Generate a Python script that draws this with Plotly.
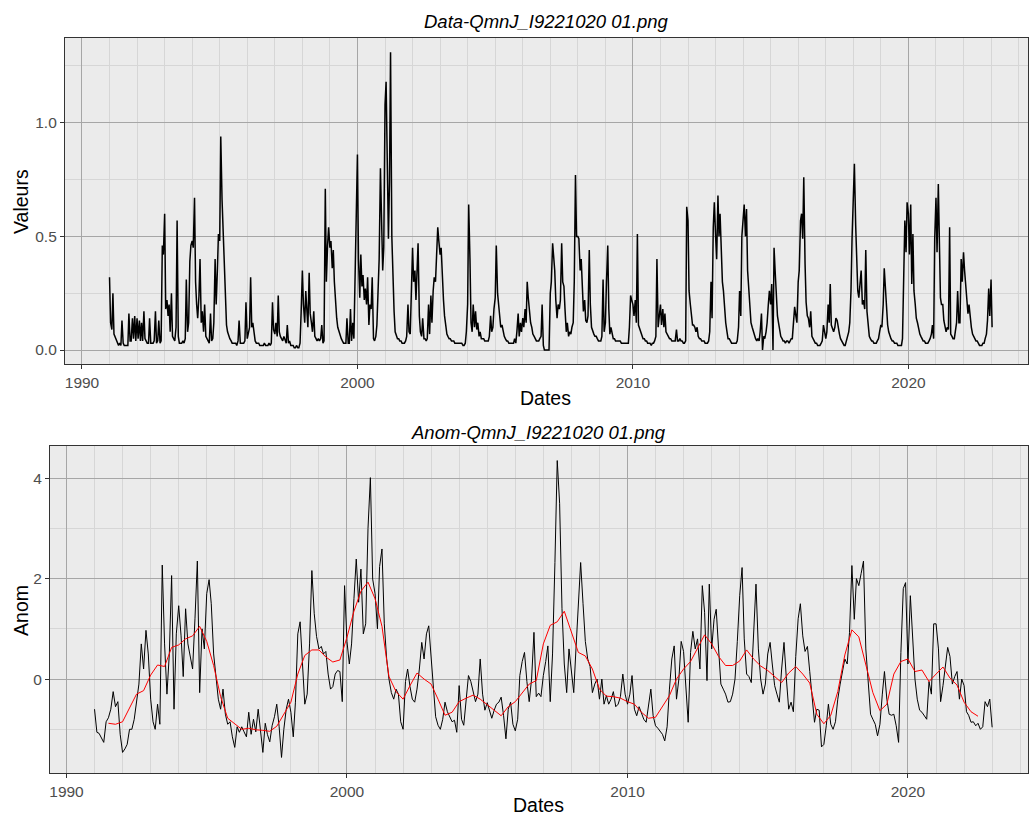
import pandas as pd
import plotly.graph_objects as go

# ---------------- Top panel: daily flow (sampled twice a month) ----------------
q1991 = [0.32,0.12,0.09,0.25,0.07,0.06,0.04,0.03,0.02,0.03,0.02,0.13,0.03,0.02,0.02,0.02,0.02,0.16,0.04,0.04,0.14,0.05,0.15,0.04]
q1992 = [0.14,0.05,0.13,0.04,0.12,0.04,0.17,0.05,0.04,0.03,0.03,0.14,0.03,0.03,0.03,0.04,0.17,0.03,0.04,0.13,0.03,0.04,0.46,0.42]
q1993 = [0.60,0.18,0.22,0.15,0.20,0.08,0.25,0.06,0.05,0.04,0.10,0.57,0.06,0.03,0.03,0.03,0.04,0.03,0.05,0.31,0.08,0.12,0.39,0.46]
q1994 = [0.48,0.45,0.67,0.30,0.20,0.14,0.24,0.40,0.12,0.17,0.08,0.20,0.06,0.05,0.04,0.03,0.16,0.04,0.05,0.12,0.40,0.20,0.35,0.51]
q1995 = [0.48,0.94,0.66,0.53,0.42,0.35,0.11,0.08,0.06,0.05,0.04,0.03,0.03,0.03,0.03,0.02,0.04,0.13,0.03,0.03,0.03,0.03,0.04,0.21]
q1996 = [0.05,0.08,0.10,0.32,0.10,0.12,0.06,0.04,0.03,0.03,0.03,0.02,0.02,0.02,0.02,0.03,0.02,0.02,0.02,0.03,0.02,0.03,0.21,0.09]
q1997 = [0.07,0.12,0.06,0.24,0.08,0.06,0.05,0.04,0.06,0.04,0.03,0.11,0.03,0.04,0.02,0.02,0.02,0.01,0.01,0.02,0.01,0.01,0.03,0.16]
q1998 = [0.35,0.20,0.12,0.26,0.14,0.10,0.34,0.16,0.12,0.08,0.17,0.06,0.05,0.04,0.05,0.04,0.05,0.11,0.03,0.04,0.71,0.30,0.46,0.54]
q1999 = [0.45,0.48,0.36,0.44,0.30,0.22,0.14,0.10,0.08,0.07,0.05,0.04,0.03,0.03,0.03,0.14,0.03,0.03,0.18,0.04,0.12,0.05,0.30,0.60]
q2000 = [0.86,0.40,0.23,0.42,0.28,0.33,0.22,0.27,0.20,0.32,0.11,0.20,0.18,0.32,0.05,0.04,0.06,0.11,0.25,0.40,0.80,0.61,0.35,0.45]
q2001 = [1.08,1.18,0.70,0.49,0.74,1.31,0.50,0.30,0.17,0.08,0.06,0.05,0.05,0.04,0.04,0.03,0.03,0.03,0.04,0.06,0.20,0.08,0.07,0.30]
q2002 = [0.45,0.30,0.35,0.22,0.40,0.47,0.15,0.08,0.06,0.14,0.05,0.05,0.04,0.05,0.20,0.07,0.24,0.12,0.26,0.32,0.30,0.40,0.54,0.48]
q2003 = [0.42,0.45,0.28,0.22,0.15,0.10,0.07,0.06,0.05,0.05,0.04,0.04,0.04,0.03,0.03,0.03,0.03,0.03,0.03,0.03,0.02,0.02,0.03,0.08]
q2004 = [0.20,0.64,0.40,0.12,0.08,0.20,0.10,0.17,0.09,0.12,0.06,0.08,0.05,0.05,0.05,0.04,0.04,0.04,0.04,0.06,0.15,0.08,0.10,0.18]
q2005 = [0.23,0.46,0.25,0.20,0.14,0.10,0.11,0.08,0.06,0.05,0.04,0.04,0.03,0.03,0.03,0.03,0.03,0.05,0.03,0.08,0.16,0.06,0.12,0.08]
q2006 = [0.14,0.10,0.18,0.12,0.30,0.23,0.17,0.12,0.10,0.07,0.06,0.05,0.04,0.04,0.04,0.05,0.06,0.20,0.02,0.00,0.00,0.00,0.00,0.00]
q2007 = [0.25,0.30,0.47,0.40,0.35,0.22,0.14,0.20,0.18,0.22,0.47,0.30,0.28,0.18,0.08,0.12,0.06,0.08,0.07,0.10,0.12,0.30,0.77,0.50]
q2008 = [0.50,0.49,0.35,0.40,0.25,0.17,0.22,0.13,0.12,0.15,0.44,0.20,0.10,0.08,0.07,0.06,0.06,0.05,0.04,0.04,0.04,0.06,0.31,0.08]
q2009 = [0.12,0.30,0.46,0.18,0.07,0.10,0.06,0.05,0.05,0.04,0.04,0.04,0.04,0.04,0.03,0.03,0.03,0.03,0.03,0.03,0.03,0.10,0.24,0.22]
q2010 = [0.20,0.15,0.22,0.12,0.51,0.11,0.09,0.08,0.06,0.05,0.05,0.04,0.04,0.03,0.03,0.03,0.02,0.03,0.03,0.04,0.06,0.40,0.10,0.15]
q2011 = [0.20,0.11,0.18,0.10,0.16,0.08,0.07,0.06,0.05,0.05,0.04,0.04,0.04,0.04,0.09,0.04,0.04,0.05,0.04,0.04,0.03,0.03,0.04,0.63]
q2012 = [0.57,0.26,0.20,0.15,0.11,0.11,0.10,0.08,0.10,0.06,0.05,0.05,0.04,0.04,0.04,0.03,0.03,0.03,0.04,0.08,0.30,0.14,0.54,0.65]
q2013 = [0.50,0.40,0.68,0.50,0.60,0.45,0.30,0.26,0.16,0.12,0.08,0.05,0.05,0.04,0.03,0.03,0.03,0.03,0.03,0.04,0.10,0.26,0.15,0.50]
q2014 = [0.57,0.64,0.50,0.62,0.35,0.27,0.16,0.12,0.10,0.08,0.06,0.05,0.04,0.05,0.04,0.08,0.16,0.00,0.06,0.05,0.08,0.12,0.20,0.26]
q2015 = [0.20,0.29,0.00,0.45,0.35,0.22,0.15,0.12,0.08,0.06,0.05,0.04,0.04,0.03,0.04,0.04,0.03,0.04,0.05,0.05,0.13,0.19,0.15,0.12]
q2016 = [0.30,0.35,0.57,0.60,0.49,0.76,0.38,0.21,0.15,0.14,0.10,0.17,0.06,0.05,0.04,0.03,0.03,0.02,0.02,0.02,0.03,0.04,0.11,0.08]
q2017 = [0.05,0.08,0.20,0.12,0.29,0.11,0.09,0.08,0.10,0.14,0.13,0.09,0.07,0.05,0.04,0.03,0.02,0.02,0.04,0.05,0.08,0.12,0.26,0.49]
q2018 = [0.71,0.82,0.55,0.42,0.26,0.23,0.30,0.35,0.20,0.22,0.18,0.44,0.17,0.10,0.06,0.05,0.04,0.04,0.03,0.03,0.03,0.04,0.05,0.08]
q2019 = [0.11,0.10,0.20,0.36,0.26,0.18,0.11,0.08,0.06,0.05,0.04,0.04,0.03,0.03,0.03,0.02,0.02,0.02,0.02,0.05,0.30,0.57,0.43,0.65]
q2020 = [0.60,0.42,0.64,0.29,0.51,0.26,0.20,0.14,0.12,0.09,0.07,0.06,0.05,0.04,0.04,0.03,0.03,0.03,0.04,0.05,0.07,0.11,0.05,0.49]
q2021 = [0.67,0.43,0.73,0.38,0.23,0.20,0.20,0.13,0.10,0.08,0.10,0.09,0.54,0.07,0.06,0.05,0.05,0.08,0.12,0.26,0.12,0.12,0.40,0.30]
q2022 = [0.43,0.35,0.29,0.22,0.16,0.20,0.12,0.10,0.07,0.06,0.05,0.04,0.04,0.03,0.02,0.02,0.02,0.03,0.03,0.05,0.07,0.13,0.27,0.15]
q2023 = [0.31,0.10]

# ---------------- Bottom panel: monthly anomaly ----------------
a1991 = [-0.60,-1.06,-1.08,-1.16,-1.26,-0.85,-0.77,-0.60,-0.25,-0.55,-0.45,-1.10]
a1992 = [-1.46,-1.39,-1.30,-1.00,-1.00,-0.80,-0.50,-0.10,0.70,0.20,0.97,0.50]
a1993 = [-0.40,-0.85,-1.00,-0.50,-0.90,2.27,0.70,-0.30,0.50,2.06,-0.60,0.90]
a1994 = [1.46,0.86,0.05,1.40,0.70,0.45,0.20,1.20,2.35,-0.27,1.00,0.60]
a1995 = [1.70,1.98,1.50,0.50,0.00,-0.40,-0.60,-0.20,-0.70,-0.90,-0.85,-1.15]
a1996 = [-1.36,-0.95,-1.06,-0.95,-1.05,-1.15,-0.66,-1.10,-0.80,-1.05,-0.60,-1.10]
a1997 = [-1.46,-0.88,-1.10,-1.25,-0.93,-0.75,-0.50,-0.95,-1.56,-1.00,-0.60,-0.40]
a1998 = [-0.66,-1.15,-0.46,0.90,1.14,0.30,-0.50,-0.30,0.70,2.16,1.30,0.85]
a1999 = [0.60,0.65,0.50,0.55,0.10,-0.20,-0.15,0.10,0.17,0.15,-0.45,1.86]
a2000 = [0.75,0.30,0.70,1.60,2.39,1.53,2.19,0.90,1.10,3.00,4.01,1.99]
a2001 = [1.70,1.00,2.24,2.59,1.10,0.40,0.00,-0.27,-0.40,-0.20,-0.30,-0.85]
a2002 = [-1.00,-0.05,0.20,-0.15,-0.40,-0.46,-0.20,0.20,0.73,0.40,0.90,1.06]
a2003 = [0.40,-0.13,-0.75,-0.92,-1.00,-0.80,-0.46,-0.65,-0.75,-0.85,-0.82,-1.06]
a2004 = [-0.13,-0.80,-0.92,-0.35,0.07,-0.05,-0.25,-0.45,-0.30,0.40,-0.30,-0.62]
a2005 = [-0.47,-0.62,-0.78,-0.62,-0.50,-0.46,-0.36,-0.72,-1.19,-0.60,-0.46,-0.90]
a2006 = [-1.03,-0.80,0.07,0.35,0.53,-0.05,-0.45,0.00,0.93,-0.35,-0.28,-0.35]
a2007 = [0.07,0.35,0.66,-0.45,0.50,2.32,4.35,3.50,1.40,0.30,-0.27,0.60]
a2008 = [0.20,-0.27,0.60,1.46,2.32,1.50,0.75,0.40,0.25,-0.27,-0.10,0.00]
a2009 = [-0.40,0.00,-0.50,-0.33,-0.50,-0.40,-0.25,-0.55,-0.50,-0.35,0.10,-0.30]
a2010 = [-0.50,-0.30,0.07,-0.60,-0.73,-0.55,-0.66,-0.80,-0.86,-0.50,-0.20,-0.73]
a2011 = [-0.93,-0.98,-1.03,-1.10,-1.23,-0.95,-0.20,0.40,0.66,-0.40,0.00,0.75]
a2012 = [0.55,-0.20,-0.86,0.53,0.95,0.60,0.80,0.20,1.86,1.33,-0.03,1.89]
a2013 = [0.60,1.19,1.39,0.60,-0.10,-0.20,-0.30,-0.46,-0.45,-0.30,0.00,0.75]
a2014 = [1.66,2.22,0.80,0.10,0.05,-0.07,1.00,1.89,0.60,0.00,-0.30,-0.10]
a2015 = [0.50,0.73,0.30,-0.13,-0.30,-0.46,0.20,0.73,0.00,-0.60,-0.46,-0.65]
a2016 = [0.45,1.20,1.50,0.86,0.55,0.65,0.15,-0.35,-0.86,-0.60,-0.62,-1.35]
a2017 = [-1.30,-0.93,-0.50,-0.90,-1.00,-0.85,-0.40,-0.10,0.15,0.40,0.30,0.93]
a2018 = [2.26,1.19,2.00,1.86,2.10,2.35,0.60,0.00,-0.70,-0.80,-0.90,-1.13]
a2019 = [-0.90,-0.30,0.15,-0.40,-0.70,-0.72,-0.70,-0.93,-1.26,0.53,1.80,1.92]
a2020 = [0.30,1.66,0.73,0.00,-0.40,-0.62,-0.66,-0.73,-0.80,-0.05,-0.30,1.10]
a2021 = [1.10,0.60,-0.45,-0.13,0.30,0.63,0.45,-0.10,0.05,0.15,-0.40,0.00]
a2022 = [-0.13,-0.65,-0.72,-0.86,-0.85,-0.93,-0.88,-1.00,-0.95,-0.45,-0.55,-0.40]
a2023 = [-0.96]

# smoothed anomaly (red), quarterly from July 1991
smooth_anom = [
    -0.88, -0.90,
    -0.85, -0.58, -0.30, -0.23,
    0.08, 0.28, 0.25, 0.63,
    0.68, 0.80, 0.86, 1.05,
    0.75, 0.27, -0.35, -0.78,
    -0.90, -1.00, -0.98, -1.01,
    -1.02, -1.04, -0.94, -0.70,
    -0.46, 0.10, 0.47, 0.58,
    0.58, 0.44, 0.34, 0.38,
    0.83, 1.35, 1.75, 1.93,
    1.60, 1.05, 0.05, -0.25,
    -0.40, -0.13, 0.12, 0.00,
    -0.10, -0.40, -0.72, -0.66,
    -0.45, -0.38, -0.32, -0.40,
    -0.52, -0.62, -0.73, -0.55,
    -0.45, -0.27, -0.10, -0.03,
    0.70, 1.07, 1.14, 1.35,
    0.95, 0.53, 0.46, 0.20,
    -0.20, -0.34, -0.35, -0.38,
    -0.45, -0.50, -0.66, -0.78,
    -0.76, -0.55, -0.33, 0.00,
    0.20, 0.35, 0.60, 0.88,
    0.70, 0.45, 0.27, 0.27,
    0.36, 0.58, 0.40, 0.26,
    0.17, 0.05, -0.07, 0.12,
    0.25, 0.10, -0.08, -0.70,
    -0.89, -0.72, -0.25, 0.48,
    0.98, 0.84, 0.27, -0.27,
    -0.63, -0.50, 0.10, 0.35,
    0.40, 0.15, 0.18, -0.05,
    0.10, 0.24, 0.02, -0.12,
    -0.46, -0.65, -0.74,
]

x_ticks = ["1990", "2000", "2010", "2020"]

flow = (q1991 + q1992 + q1993 + q1994 + q1995 + q1996 + q1997 + q1998 + q1999 + q2000 +
        q2001 + q2002 + q2003 + q2004 + q2005 + q2006 + q2007 + q2008 + q2009 + q2010 +
        q2011 + q2012 + q2013 + q2014 + q2015 + q2016 + q2017 + q2018 + q2019 + q2020 +
        q2021 + q2022 + q2023)
anom = (a1991 + a1992 + a1993 + a1994 + a1995 + a1996 + a1997 + a1998 + a1999 + a2000 +
        a2001 + a2002 + a2003 + a2004 + a2005 + a2006 + a2007 + a2008 + a2009 + a2010 +
        a2011 + a2012 + a2013 + a2014 + a2015 + a2016 + a2017 + a2018 + a2019 + a2020 +
        a2021 + a2022 + a2023)

flow_dates = pd.date_range("1991-01-01", periods=len(flow), freq="SMS")
anom_dates = pd.date_range("1991-01-01", periods=len(anom), freq="MS")
smooth_dates = pd.date_range("1991-07-01", periods=len(smooth_anom), freq="3MS")

W, H = 1029, 816
FONT = "Arial, Liberation Sans, sans-serif"
MAJOR = "#A6A6A6"
MINOR = "#D6D6D6"
BORDER = "#333333"

fig = go.Figure()
fig.add_trace(go.Scatter(x=flow_dates, y=flow, mode="lines",
                         line=dict(color="black", width=1.5), xaxis="x", yaxis="y",
                         showlegend=False))
fig.add_trace(go.Scatter(x=anom_dates, y=anom, mode="lines",
                         line=dict(color="black", width=1), xaxis="x2", yaxis="y2",
                         showlegend=False))
fig.add_trace(go.Scatter(x=smooth_dates, y=smooth_anom, mode="lines",
                         line=dict(color="#FF0000", width=1), xaxis="x2", yaxis="y2",
                         showlegend=False))

def xaxis_style(domain, anchor, rng):
    return dict(
        domain=domain, anchor=anchor, type="date", range=rng,
        tickmode="array", tickvals=[f"{t}-01-01" for t in x_ticks], ticktext=x_ticks,
        showgrid=True, gridcolor=MAJOR, gridwidth=1,
        minor=dict(dtick="M12", tick0="1990-01-01", showgrid=True, gridcolor=MINOR,
                   gridwidth=1, ticks=""),
        ticks="outside", ticklen=4, tickcolor=BORDER, tickwidth=1,
        tickfont=dict(family=FONT, size=15.5, color="#4D4D4D"),
        showline=True, linecolor=BORDER, linewidth=1, mirror=True, zeroline=False,
    )

def yaxis_style(domain, anchor, rng, dtick, minor_dtick, fmt):
    return dict(
        domain=domain, anchor=anchor, range=rng, tick0=0, dtick=dtick, tickformat=fmt,
        showgrid=True, gridcolor=MAJOR, gridwidth=1,
        minor=dict(dtick=minor_dtick, tick0=0, showgrid=True, gridcolor=MINOR,
                   gridwidth=1, ticks=""),
        ticks="outside", ticklen=4, tickcolor=BORDER, tickwidth=1,
        tickfont=dict(family=FONT, size=15.5, color="#4D4D4D"),
        showline=True, linecolor=BORDER, linewidth=1, mirror=True, zeroline=False,
    )

top_dom = [(H - 364) / H, (H - 38) / H]
bot_dom = [(H - 773) / H, (H - 446) / H]

fig.update_layout(
    width=W, height=H,
    margin=dict(l=0, r=0, t=0, b=0),
    paper_bgcolor="white", plot_bgcolor="#EBEBEB",
    xaxis=xaxis_style([64 / W, 1.0], "y", ["1989-05-19", "2024-05-05"]),
    yaxis=yaxis_style(top_dom, "x", [-0.0616, 1.373], 0.5, 0.25, ".1f"),
    xaxis2=xaxis_style([49 / W, 1.0], "y2", ["1989-05-30", "2024-04-12"]),
    yaxis2=yaxis_style(bot_dom, "x2", [-1.87, 4.64], 2, 1, "d"),
    font=dict(family=FONT),
)

def ann(text, x, y, size, italic=False, angle=0, color="black"):
    return dict(text=f"<i>{text}</i>" if italic else text,
                x=x / W, y=1 - y / H, xref="paper", yref="paper",
                xanchor="center", yanchor="middle", showarrow=False, textangle=angle,
                font=dict(family=FONT, size=size, color=color))

fig.update_layout(annotations=[
    ann("Data-QmnJ_I9221020 01.png", 546, 21, 18.5, italic=True),
    ann("Anom-QmnJ_I9221020 01.png", 539, 432, 18.5, italic=True),
    ann("Valeurs", 20, 201, 19.5, angle=-90),
    ann("Dates", 546, 398, 19.5),
    ann("Anom", 20, 610, 19.5, angle=-90),
    ann("Dates", 539, 805, 19.5),
])

fig.write_html(
    "out.html",
    config={"displayModeBar": False},
    post_script="document.body.style.margin='0';document.body.style.overflow='hidden';",
)
